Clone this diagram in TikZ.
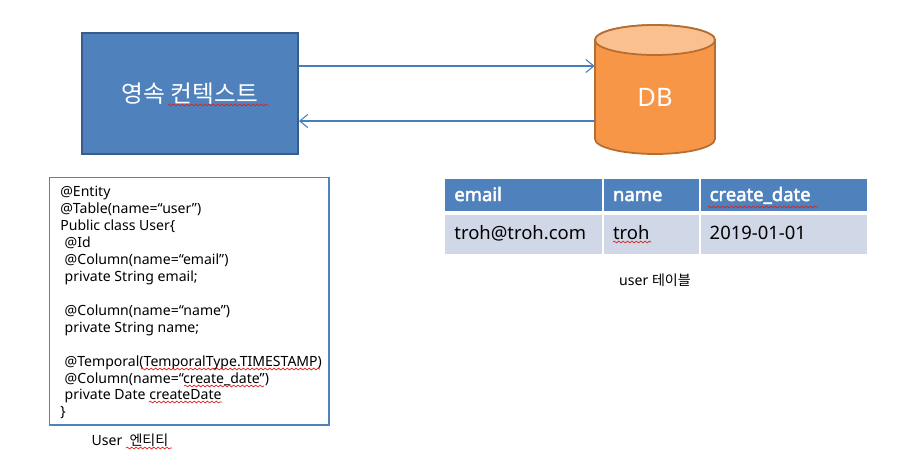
\documentclass[tikz,border=0pt]{standalone}
\usepackage{fontspec}
\setmainfont{Noto Sans}[AutoFakeBold=2.5]
\newfontfamily\kr{Noto Sans CJK KR}
\usetikzlibrary{calc,positioning,arrows.meta,decorations.pathmorphing}
\definecolor{boxblue}{HTML}{4F81BD}
\definecolor{boxedge}{HTML}{385D8A}
\definecolor{arrblue}{HTML}{4A7EBB}
\definecolor{dbfill}{HTML}{F79646}
\definecolor{dbtop}{HTML}{FAC090}
\definecolor{dbedge}{HTML}{B66D31}
\definecolor{rowfill}{HTML}{D0D8E8}
\definecolor{wavy}{HTML}{E0201C}
\newcommand{\ind}{\hspace*{2.5pt}}

\begin{document}
\begin{tikzpicture}[x=0.02cm,y=-0.02cm]
  \tikzset{ ctx/.style={draw=boxedge,line width=1.1pt,fill=boxblue,minimum width=4.32cm,minimum height=2.42cm,text=white,font=\kr\fontsize{13.5}{16}\selectfont},
    arr/.style={draw=arrblue,line width=0.6pt,-{Straight Barb[length=1.6mm,width=2.6mm]}},
    hcell/.style={fill=boxblue,text=white,font=\bfseries\fontsize{10.5}{12}\selectfont,minimum height=0.64cm,inner xsep=0.18cm,align=left,text height=1.6ex,text depth=0.4ex},
    dcell/.style={fill=rowfill,font=\fontsize{10.5}{12}\selectfont,minimum height=0.78cm,inner xsep=0.18cm,align=left,text height=1.6ex,text depth=0.6ex},
    codebox/.style={draw=boxblue,line width=0.6pt,minimum width=5.6cm,minimum height=4.96cm},
    small/.style={font=\fontsize{8}{9.64}\selectfont,inner sep=0pt},
    sq/.style={draw=wavy,line width=0.4pt,decorate,decoration={snake,segment length=2.5pt,amplitude=0.5pt}},
  }
  \useasboundingbox (0,0) rectangle (900,468);

  % persistence context and the database
  \node[ctx] (ctx) at (190,93.5) {영속 컨텍스트};
  \draw[fill=dbfill,draw=dbedge,line width=1pt] (595,40) -- (595,139)
    arc[start angle=180,end angle=360,x radius=1.2cm,y radius=0.3cm] -- (715,40)
    arc[start angle=0,end angle=180,x radius=1.2cm,y radius=0.3cm] -- cycle;
  \draw[fill=dbtop,draw=dbedge,line width=1pt] (655,40) ellipse [x radius=1.2cm,y radius=0.3cm];
  \node[text=white,font=\fontsize{14.5}{17}\selectfont,minimum width=2.4cm,inner sep=0pt] (db) at (655,97) {DB};

  % the two arrows between them
  \draw[arr] ($(ctx.east)+(0,-27.5)$) -- ($(ctx.east -| db.west)+(0,-27.5)$);
  \draw[arr] ($(ctx.east -| db.west)+(0,27.5)$) -- ($(ctx.east)+(0,27.5)$);

  % entity class
  \node[codebox] (code) at (189,301) {};
  \node[small,anchor=north west,align=left] (src) at (60,186) {@Entity\\
    @Table(name=“user”)\\
    Public class User\{\\
    \ind @Id\\
    \ind @Column(name=“email”)\\
    \ind private String email;\\
    \mbox{}\\
    \ind @Column(name=“name”)\\
    \ind private String name;\\
    \mbox{}\\
    \ind @Temporal(TemporalType.TIMESTAMP)\\
    \ind @Column(name=“create\_date”)\\
    \ind private Date createDate\\
    \}};
  \node[small] (ent) at (130,440) {User\hspace{2pt} {\kr 엔티티}};

  % user table
  \node[hcell,anchor=north west,text width=2.78cm] (h1) at (445,179) {email};
  \node[hcell,text width=1.54cm,right=0.02cm of h1] (h2) {name};
  \node[hcell,text width=2.96cm,right=0.02cm of h2] (h3) {create\_date};
  \node[dcell,text width=2.78cm,below=0.06cm of h1] (d1) {troh@troh.com};
  \node[dcell,text width=1.54cm,below=0.06cm of h2] (d2) {troh};
  \node[dcell,text width=2.96cm,below=0.06cm of h3] (d3) {2019-01-01};
  \node[small] (tbl) at (655,280) {user {\kr 테이블}};

  % spell check marks
  \draw[sq] (168,105) -- (268,105);
  \draw[sq] (141,369) -- (320,369);
  \draw[sq] (184,386) -- (264,386);
  \draw[sq] (149,402) -- (222,402);
  \draw[sq] (126,448) -- (172,448);
  \draw[sq] (708,207) -- (818,207);
  \draw[sq] (613,242) -- (651,242);
\end{tikzpicture}
\end{document}
